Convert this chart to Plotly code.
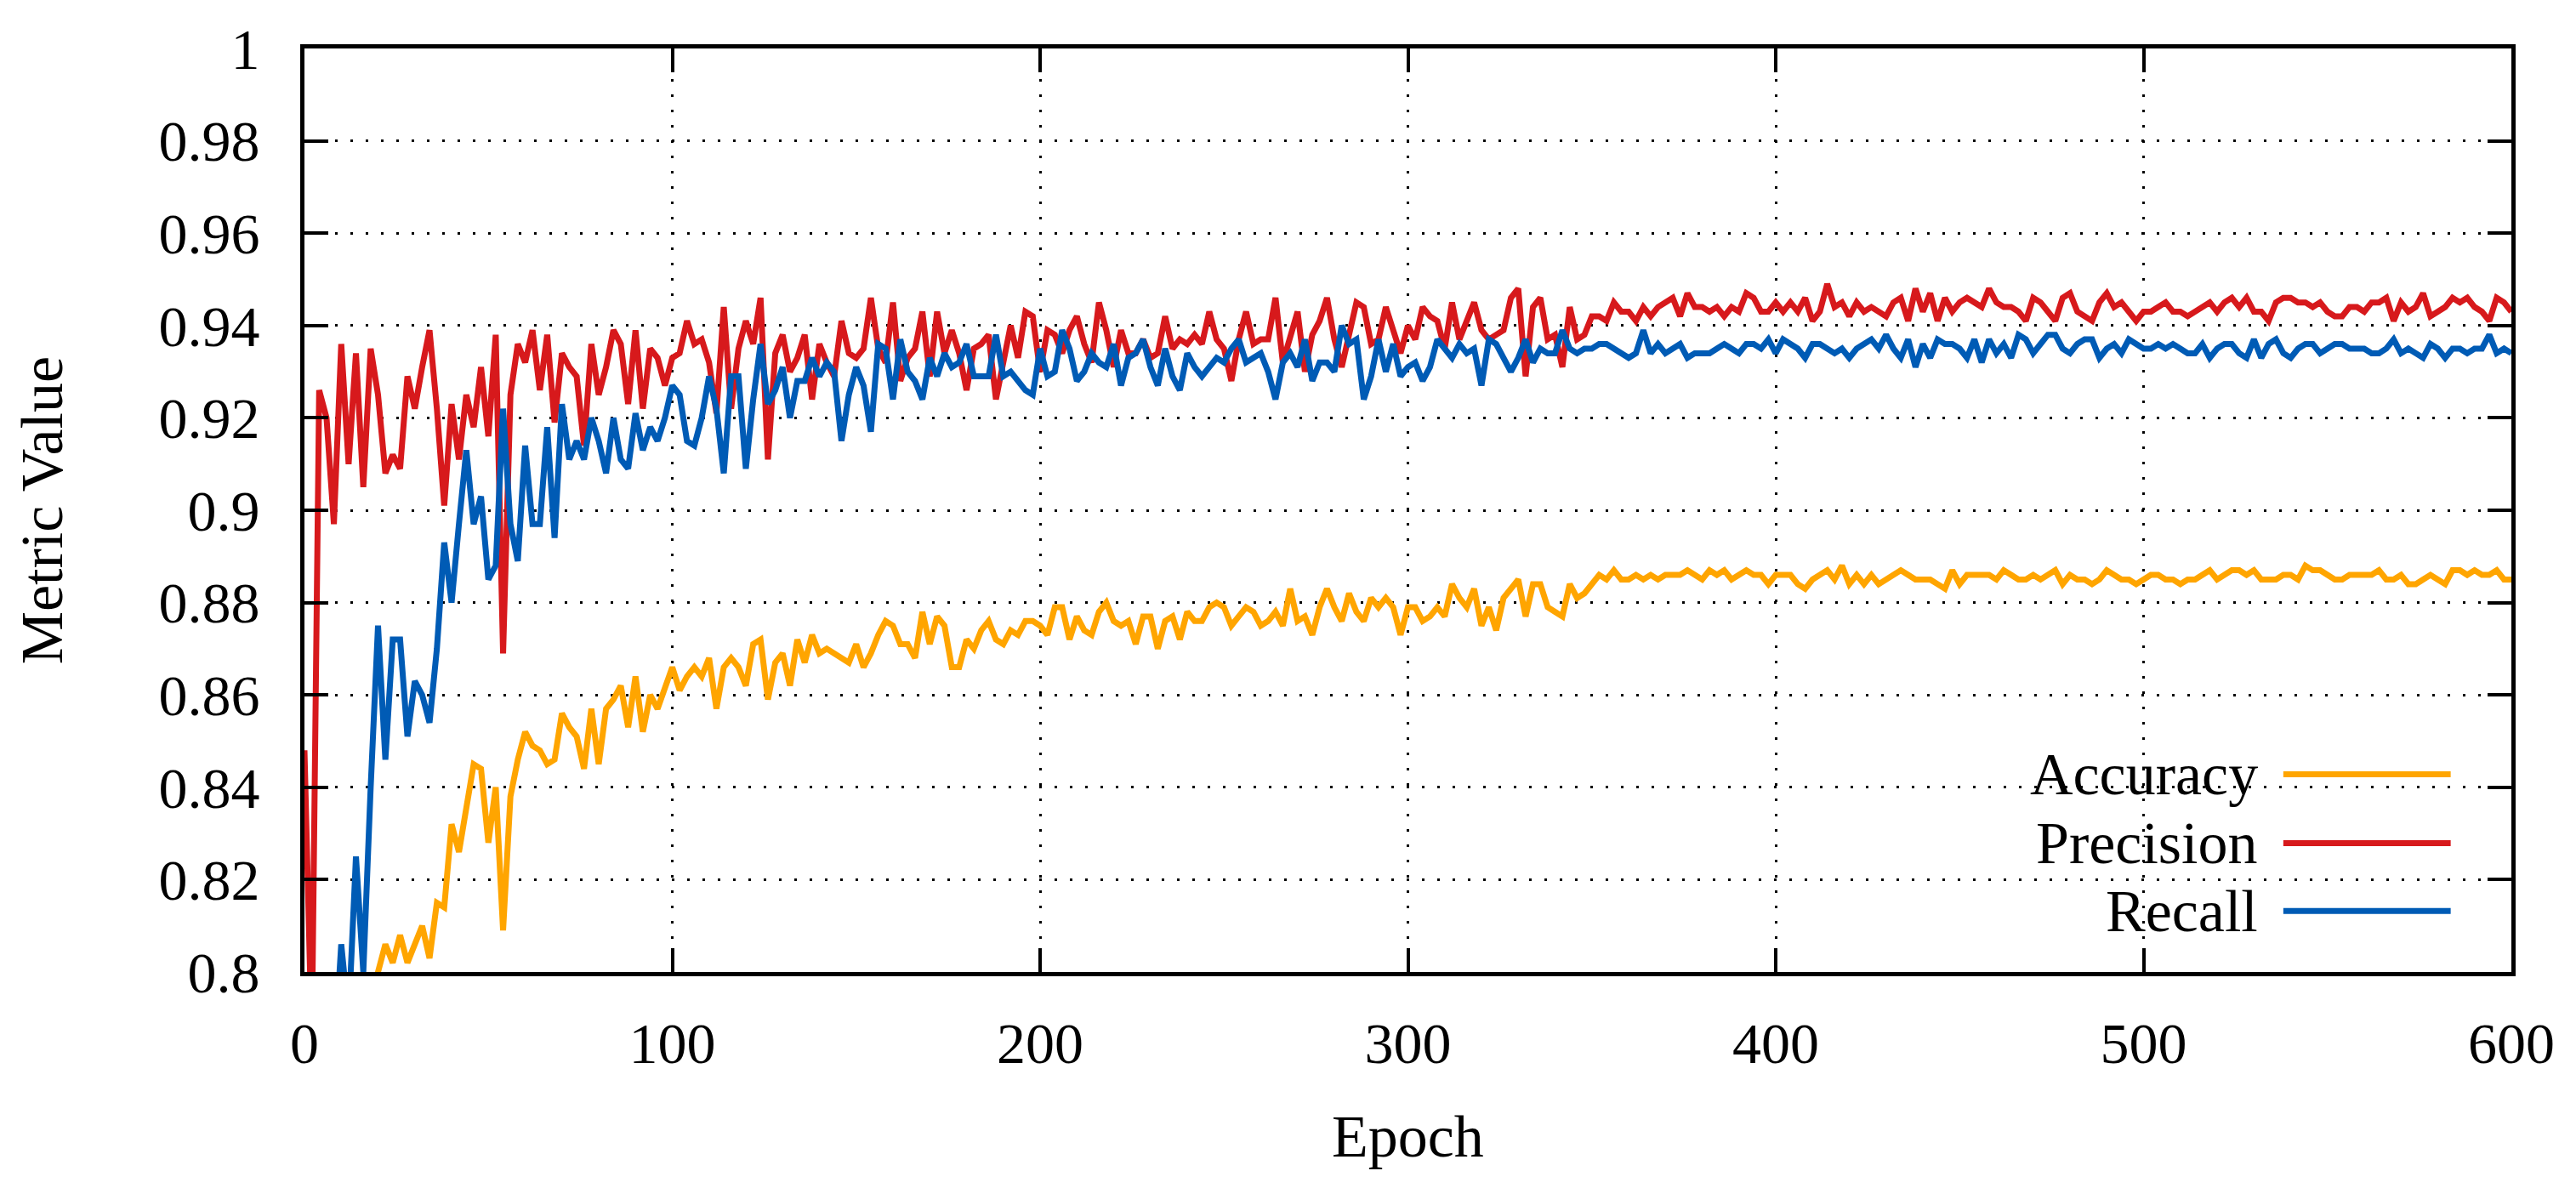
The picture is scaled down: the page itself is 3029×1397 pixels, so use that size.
import plotly.graph_objects as go

EPOCHS = list(range(0, 601, 2))

ACCURACY = [
    0.740, 0.750, 0.755, 0.760, 0.765, 0.770, 0.775, 0.780, 0.785, 0.790,
    0.800, 0.806, 0.802, 0.808, 0.802, 0.806, 0.810, 0.803, 0.815, 0.814,
    0.832, 0.826, 0.836, 0.845, 0.844, 0.828, 0.840, 0.809, 0.838, 0.846,
    0.852, 0.849, 0.848, 0.845, 0.846, 0.856, 0.853, 0.851, 0.844, 0.857,
    0.845, 0.857, 0.859, 0.862, 0.853, 0.864, 0.852, 0.860, 0.857, 0.862,
    0.866,
    0.861, 0.864, 0.866, 0.864, 0.868, 0.857, 0.866, 0.868, 0.866, 0.862,
    0.871, 0.872, 0.859, 0.867, 0.869, 0.862, 0.872, 0.867, 0.873, 0.869,
    0.870, 0.869, 0.868, 0.867, 0.871, 0.866, 0.869, 0.873, 0.876, 0.875,
    0.871, 0.871, 0.868, 0.878, 0.871, 0.877, 0.875, 0.866, 0.866, 0.872,
    0.870, 0.874, 0.876, 0.872, 0.871, 0.874, 0.873, 0.876, 0.876,
    0.875, 0.873, 0.879, 0.879, 0.872, 0.877, 0.874, 0.873, 0.878, 0.880,
    0.876, 0.875, 0.876, 0.871, 0.877, 0.877, 0.870, 0.876, 0.877, 0.872,
    0.878, 0.876, 0.876, 0.879, 0.880, 0.879, 0.875, 0.877, 0.879, 0.878,
    0.875, 0.876, 0.878, 0.875, 0.883, 0.876, 0.877, 0.873, 0.879, 0.883,
    0.879, 0.876, 0.882, 0.878, 0.876, 0.881, 0.879, 0.881, 0.879,
    0.873, 0.879, 0.879, 0.876, 0.877, 0.879, 0.877, 0.884, 0.881, 0.879,
    0.883, 0.875, 0.879, 0.874, 0.881, 0.883, 0.885, 0.877, 0.884, 0.884,
    0.879, 0.878, 0.877, 0.884, 0.881, 0.882, 0.884, 0.886, 0.885, 0.887,
    0.885, 0.885, 0.886, 0.885, 0.886, 0.885, 0.886, 0.886, 0.886, 0.887,
    0.886, 0.885, 0.887, 0.886, 0.887, 0.885, 0.886, 0.887,
    0.886, 0.886, 0.884, 0.886, 0.886, 0.886, 0.884, 0.883, 0.885, 0.886,
    0.887, 0.885, 0.888, 0.884, 0.886, 0.884, 0.886, 0.884, 0.885, 0.886,
    0.887, 0.886, 0.885, 0.885, 0.885, 0.884, 0.883, 0.887, 0.884, 0.886,
    0.886, 0.886, 0.886, 0.885, 0.887, 0.886, 0.885, 0.885, 0.886, 0.885,
    0.886, 0.887, 0.884, 0.886, 0.885, 0.885, 0.884, 0.885, 0.887,
    0.886, 0.885, 0.885, 0.884, 0.885, 0.886, 0.886, 0.885, 0.885, 0.884,
    0.885, 0.885, 0.886, 0.887, 0.885, 0.886, 0.887, 0.887, 0.886, 0.887,
    0.885, 0.885, 0.885, 0.886, 0.886, 0.885, 0.888, 0.887, 0.887, 0.886,
    0.885, 0.885, 0.886, 0.886, 0.886, 0.886, 0.887, 0.885, 0.885, 0.886,
    0.884, 0.884, 0.885, 0.886, 0.885, 0.884, 0.887, 0.887, 0.886, 0.887,
    0.886, 0.886, 0.887, 0.885, 0.885,
]

PRECISION = [
    0.848, 0.785, 0.926, 0.920, 0.897, 0.936, 0.910, 0.934, 0.905, 0.935,
    0.925, 0.908, 0.912, 0.909, 0.929, 0.922, 0.931, 0.939, 0.922, 0.901,
    0.923, 0.911, 0.925, 0.918, 0.931, 0.916, 0.938, 0.869, 0.925, 0.936,
    0.932, 0.939, 0.926, 0.938, 0.919, 0.934, 0.931, 0.929, 0.914, 0.936,
    0.925, 0.931, 0.939, 0.936, 0.923, 0.939, 0.922, 0.935, 0.933, 0.927,
    0.933,
    0.934, 0.941, 0.936, 0.937, 0.932, 0.921, 0.944, 0.922, 0.935, 0.941,
    0.936, 0.946, 0.911, 0.934, 0.938, 0.930, 0.933, 0.938, 0.924, 0.936,
    0.932, 0.929, 0.941, 0.934, 0.933, 0.935, 0.946, 0.935, 0.932, 0.945,
    0.928, 0.933, 0.935, 0.943, 0.929, 0.943, 0.934, 0.939, 0.934, 0.926,
    0.935, 0.936, 0.938, 0.924, 0.932, 0.940, 0.933, 0.943, 0.942,
    0.930, 0.939, 0.938, 0.934, 0.939, 0.942, 0.936, 0.932, 0.945, 0.939,
    0.931, 0.939, 0.934, 0.934, 0.937, 0.933, 0.934, 0.942, 0.935, 0.937,
    0.936, 0.938, 0.936, 0.943, 0.937, 0.935, 0.928, 0.937, 0.943, 0.936,
    0.937, 0.937, 0.946, 0.932, 0.938, 0.943, 0.930, 0.938, 0.941, 0.946,
    0.937, 0.931, 0.938, 0.945, 0.944, 0.936, 0.937, 0.944, 0.939,
    0.934, 0.940, 0.937, 0.944, 0.942, 0.941, 0.935, 0.945, 0.937, 0.941,
    0.945, 0.939, 0.937, 0.938, 0.939, 0.946, 0.948, 0.929, 0.944, 0.946,
    0.937, 0.938, 0.931, 0.944, 0.937, 0.938, 0.942, 0.942, 0.941, 0.945,
    0.943, 0.943, 0.941, 0.944, 0.942, 0.944, 0.945, 0.946, 0.942, 0.947,
    0.944, 0.944, 0.943, 0.944, 0.942, 0.944, 0.943, 0.947,
    0.946, 0.943, 0.943, 0.945, 0.943, 0.945, 0.943, 0.946, 0.941, 0.943,
    0.949, 0.944, 0.945, 0.942, 0.945, 0.943, 0.944, 0.943, 0.942, 0.945,
    0.946, 0.941, 0.948, 0.943, 0.947, 0.941, 0.946, 0.943, 0.945, 0.946,
    0.945, 0.944, 0.948, 0.945, 0.944, 0.944, 0.943, 0.941, 0.946, 0.945,
    0.943, 0.941, 0.946, 0.947, 0.943, 0.942, 0.941, 0.945, 0.947,
    0.944, 0.945, 0.943, 0.941, 0.943, 0.943, 0.944, 0.945, 0.943, 0.943,
    0.942, 0.943, 0.944, 0.945, 0.943, 0.945, 0.946, 0.944, 0.946, 0.943,
    0.943, 0.941, 0.945, 0.946, 0.946, 0.945, 0.945, 0.944, 0.945, 0.943,
    0.942, 0.942, 0.944, 0.944, 0.943, 0.945, 0.945, 0.946, 0.941, 0.945,
    0.943, 0.944, 0.947, 0.942, 0.943, 0.944, 0.946, 0.945, 0.946, 0.944,
    0.943, 0.941, 0.946, 0.945, 0.943,
]

RECALL = [
    0.740, 0.750, 0.760, 0.770, 0.780, 0.806, 0.790, 0.825, 0.800, 0.840,
    0.875, 0.846, 0.872, 0.872, 0.851, 0.863, 0.860, 0.854, 0.870, 0.893,
    0.880, 0.897, 0.913, 0.897, 0.903, 0.885, 0.888, 0.922, 0.897, 0.889,
    0.914, 0.897, 0.897, 0.918, 0.894, 0.923, 0.911, 0.915, 0.911, 0.920,
    0.915, 0.908, 0.920, 0.911, 0.909, 0.921, 0.913, 0.918, 0.915, 0.920,
    0.927,
    0.925, 0.915, 0.914, 0.920, 0.929, 0.922, 0.908, 0.929, 0.929, 0.909,
    0.924, 0.936, 0.923, 0.926, 0.931, 0.920, 0.928, 0.928, 0.933, 0.929,
    0.932, 0.930, 0.915, 0.925, 0.931, 0.927, 0.917, 0.936, 0.935, 0.924,
    0.937, 0.930, 0.928, 0.924, 0.933, 0.929, 0.934, 0.931, 0.932, 0.936,
    0.929, 0.929, 0.929, 0.938, 0.929, 0.930, 0.928, 0.926, 0.925,
    0.935, 0.929, 0.930, 0.939, 0.935, 0.928, 0.930, 0.934, 0.932, 0.931,
    0.936, 0.927, 0.933, 0.934, 0.937, 0.931, 0.927, 0.935, 0.929, 0.926,
    0.934, 0.931, 0.929, 0.931, 0.933, 0.932, 0.935, 0.937, 0.932, 0.933,
    0.934, 0.930, 0.924, 0.932, 0.934, 0.931, 0.937, 0.928, 0.932, 0.932,
    0.930, 0.940, 0.936, 0.937, 0.924, 0.929, 0.937, 0.930, 0.936,
    0.929, 0.931, 0.932, 0.928, 0.931, 0.937, 0.935, 0.933, 0.936, 0.934,
    0.935, 0.927, 0.937, 0.936, 0.933, 0.930, 0.933, 0.937, 0.932, 0.935,
    0.934, 0.934, 0.939, 0.935, 0.934, 0.935, 0.935, 0.936, 0.936, 0.935,
    0.934, 0.933, 0.934, 0.939, 0.934, 0.936, 0.934, 0.935, 0.936, 0.933,
    0.934, 0.934, 0.934, 0.935, 0.936, 0.935, 0.934, 0.936,
    0.936, 0.935, 0.937, 0.934, 0.937, 0.936, 0.935, 0.933, 0.936, 0.936,
    0.935, 0.934, 0.935, 0.933, 0.935, 0.936, 0.937, 0.935, 0.938, 0.935,
    0.933, 0.937, 0.931, 0.936, 0.933, 0.937, 0.936, 0.936, 0.935, 0.933,
    0.937, 0.932, 0.937, 0.934, 0.936, 0.933, 0.938, 0.937, 0.934, 0.936,
    0.938, 0.938, 0.935, 0.934, 0.936, 0.937, 0.937, 0.933, 0.935,
    0.936, 0.934, 0.937, 0.936, 0.935, 0.935, 0.936, 0.935, 0.936, 0.935,
    0.934, 0.934, 0.936, 0.933, 0.935, 0.936, 0.936, 0.934, 0.933, 0.937,
    0.933, 0.936, 0.937, 0.934, 0.933, 0.935, 0.936, 0.936, 0.934, 0.935,
    0.936, 0.936, 0.935, 0.935, 0.935, 0.934, 0.934, 0.935, 0.937, 0.934,
    0.935, 0.934, 0.933, 0.936, 0.935, 0.933, 0.935, 0.935, 0.934, 0.935,
    0.935, 0.938, 0.934, 0.935, 0.934,
]

SERIES_NAMES = ["Accuracy", "Precision", "Recall"]
SERIES_COLORS = ["#ffa500", "#d7191c", "#005bb5"]

X_TICKS = [0, 100, 200, 300, 400, 500, 600]
Y_TICKS = [0.8, 0.82, 0.84, 0.86, 0.88, 0.9, 0.92, 0.94, 0.96, 0.98, 1.0]
Y_TICK_TEXT = ["0.8", "0.82", "0.84", "0.86", "0.88", "0.9",
               "0.92", "0.94", "0.96", "0.98", "1"]

FONT = "Liberation Serif"
FS_TICK = 68
FS_TEXT = 70

fig = go.Figure()
for name, vals, col in zip(SERIES_NAMES, [ACCURACY, PRECISION, RECALL], SERIES_COLORS):
    fig.add_trace(go.Scatter(x=EPOCHS[:len(vals)], y=vals, mode="lines", name=name,
                             line=dict(color=col, width=7), showlegend=False))

# legend box (gnuplot style: text left, sample line right)
shapes = [dict(type="rect", xref="x", yref="y", x0=453, x1=590, y0=0.8, y1=0.8478,
               fillcolor="white", line=dict(width=0), layer="below")]
annotations = []
leg_y = [0.8428, 0.8279, 0.8132]
for name, col, yy in zip(SERIES_NAMES, SERIES_COLORS, leg_y):
    shapes.append(dict(type="line", xref="x", yref="y", x0=538, x1=583.5, y0=yy, y1=yy,
                       line=dict(color=col, width=7), layer="above"))
    annotations.append(dict(x=531.5, y=yy, xref="x", yref="y", text=name, showarrow=False,
                            xanchor="right", yanchor="middle",
                            font=dict(family=FONT, size=FS_TEXT, color="black")))

annotations.append(dict(x=0.5, y=-0.178, xref="paper", yref="paper", text="Epoch",
                        showarrow=False, xanchor="center", yanchor="middle",
                        font=dict(family=FONT, size=FS_TEXT, color="black")))
annotations.append(dict(x=-0.119, y=0.5, xref="paper", yref="paper", text="Metric Value",
                        showarrow=False, xanchor="center", yanchor="middle", textangle=-90,
                        font=dict(family=FONT, size=FS_TEXT, color="black")))

axis_common = dict(showline=True, linewidth=5, linecolor="black", mirror="allticks",
                   ticks="inside", ticklen=28, tickwidth=4, tickcolor="black",
                   showgrid=True, gridcolor="black", gridwidth=3, griddash="3px,15px",
                   zeroline=False, tickfont=dict(family=FONT, size=FS_TICK, color="black"))

fig.update_layout(
    width=3029, height=1397,
    margin=dict(l=350, r=84, t=46, b=262),
    paper_bgcolor="white", plot_bgcolor="white",
    xaxis=dict(range=[0, 600], tickvals=X_TICKS, ticktext=[str(v) for v in X_TICKS],
               ticklabelstandoff=20, **axis_common),
    yaxis=dict(range=[0.8, 1.0], tickvals=Y_TICKS, ticktext=Y_TICK_TEXT,
               ticklabelstandoff=34, **axis_common),
    shapes=shapes, annotations=annotations,
    font=dict(family=FONT, size=FS_TEXT, color="black"),
)

fig.write_html("out.html")
